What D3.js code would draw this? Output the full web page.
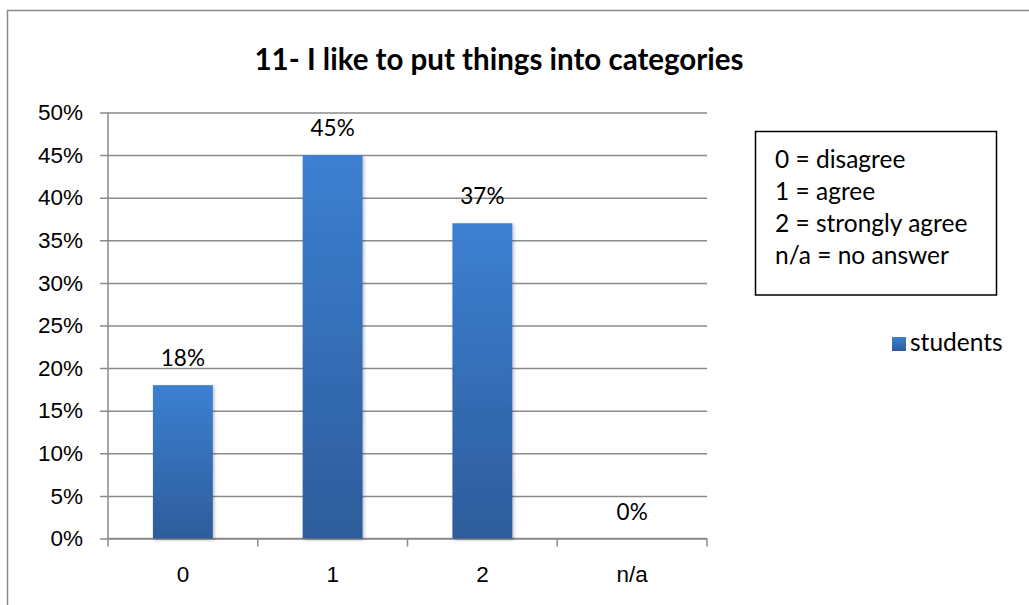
<!DOCTYPE html>
<html>
<head>
<meta charset="utf-8">
<script src="https://cdn.jsdelivr.net/npm/d3@7"></script>
<style>
  html, body { margin: 0; padding: 0; background: #fff; }
  svg { display: block; font-family: Lato, "Open Sans", sans-serif; }
</style>
</head>
<body>
<svg id="chart" width="1029" height="605"></svg>
<script>
// Survey answers for statement 11
const categories = ["0", "1", "2", "n/a"];
const students = [18, 45, 37, 0];
const yTicks = [0, 5, 10, 15, 20, 25, 30, 35, 40, 45, 50];
const keyLines = ["0 = disagree", "1 = agree", "2 = strongly agree", "n/a = no answer"];
const seriesName = "students";
const title = "11- I like to put things into categories";

const svg = d3.select("#chart");

// Outer chart frame
svg.append("rect")
  .attr("x", 7.5).attr("y", 10.5)
  .attr("width", 1100).attr("height", 700)
  .attr("fill", "none").attr("stroke", "#8a8a8a").attr("stroke-width", 1.5);

const plot = { left: 108, right: 707, top: 112.5, bottom: 538.5 };

const x = d3.scaleBand()
  .domain(categories)
  .range([plot.left, plot.right])
  .paddingInner(0.6)
  .paddingOuter(0.3);

const y = d3.scaleLinear()
  .domain([0, 50])
  .range([plot.bottom, plot.top]);

// Bar gradient
const defs = svg.append("defs");
const grad = defs.append("linearGradient")
  .attr("id", "barFill").attr("x1", 0).attr("y1", 0).attr("x2", 0).attr("y2", 1);
grad.append("stop").attr("offset", "0%").attr("stop-color", "#3c80d2");
grad.append("stop").attr("offset", "100%").attr("stop-color", "#2d5c9b");

const shadow = defs.append("filter").attr("id", "barShadow")
  .attr("x", "-20%").attr("y", "-10%").attr("width", "140%").attr("height", "120%");
shadow.append("feDropShadow")
  .attr("dx", 1.5).attr("dy", 1.5).attr("stdDeviation", 1.5)
  .attr("flood-color", "#000").attr("flood-opacity", 0.25);

const labelSize = 22.5;

// Horizontal gridlines + y axis
const yAxis = d3.axisLeft(y)
  .tickValues(yTicks)
  .tickSize(plot.right - plot.left + 8)
  .tickFormat(d => d + "%");

const gy = svg.append("g")
  .attr("transform", `translate(${plot.right},0)`)
  .call(yAxis);
gy.select(".domain").remove();
gy.selectAll(".tick line")
  .attr("stroke", "#8a8a8a").attr("stroke-width", 1.5);
gy.selectAll(".tick text")
  .attr("x", -(plot.right - plot.left + 8) - 17)
  .attr("font-size", labelSize)
  .attr("fill", "#000");

// Vertical axis line
svg.append("line")
  .attr("x1", plot.left).attr("x2", plot.left)
  .attr("y1", plot.top).attr("y2", plot.bottom)
  .attr("stroke", "#8a8a8a").attr("stroke-width", 1.5);

// Category axis
const xAxis = d3.axisBottom(x).tickSize(0).tickPadding(0);
const gx = svg.append("g")
  .attr("transform", `translate(0,${plot.bottom})`)
  .call(xAxis);
gx.select(".domain").remove();
gx.selectAll(".tick text")
  .attr("y", 28)
  .attr("dy", "0.71em")
  .attr("font-size", labelSize)
  .attr("fill", "#000");

svg.append("line")
  .attr("x1", plot.left).attr("x2", plot.right)
  .attr("y1", plot.bottom).attr("y2", plot.bottom)
  .attr("stroke", "#8a8a8a").attr("stroke-width", 1.5);

// Tick marks between categories
const step = x.step();
const boundaries = d3.range(categories.length + 1).map(i => plot.left + i * step);
svg.append("g").selectAll("line")
  .data(boundaries)
  .join("line")
  .attr("x1", d => d).attr("x2", d => d)
  .attr("y1", plot.bottom).attr("y2", plot.bottom + 8)
  .attr("stroke", "#8a8a8a").attr("stroke-width", 1.5);

// Bars
svg.append("g").selectAll("rect")
  .data(students)
  .join("rect")
  .attr("x", (d, i) => x(categories[i]))
  .attr("y", d => y(d))
  .attr("width", x.bandwidth())
  .attr("height", d => y(0) - y(d))
  .attr("fill", "url(#barFill)")
  .attr("filter", "url(#barShadow)");

// Value labels
svg.append("g").selectAll("text")
  .data(students)
  .join("text")
  .attr("x", (d, i) => x(categories[i]) + x.bandwidth() / 2)
  .attr("y", d => y(d) - 19)
  .attr("text-anchor", "middle")
  .attr("font-size", labelSize)
  .attr("fill", "#000")
  .text(d => d + "%");

// Title
svg.append("text")
  .attr("x", 499).attr("y", 70)
  .attr("text-anchor", "middle")
  .attr("font-size", 29.5)
  .attr("font-weight", "bold")
  .attr("fill", "#000")
  .text(title);

// Answer key box
svg.append("rect")
  .attr("x", 755.5).attr("y", 131.5)
  .attr("width", 241).attr("height", 163.5)
  .attr("fill", "#fff").attr("stroke", "#000").attr("stroke-width", 1.5);

svg.append("g").selectAll("text")
  .data(keyLines)
  .join("text")
  .attr("x", 775)
  .attr("y", (d, i) => 168 + i * 32)
  .attr("font-size", 24.5)
  .attr("fill", "#000")
  .text(d => d);

// Series legend
svg.append("rect")
  .attr("x", 892).attr("y", 337)
  .attr("width", 14).attr("height", 14)
  .attr("fill", "url(#barFill)");
svg.append("text")
  .attr("x", 910).attr("y", 351)
  .attr("font-size", 24.5)
  .attr("fill", "#000")
  .text(seriesName);
</script>
</body>
</html>
